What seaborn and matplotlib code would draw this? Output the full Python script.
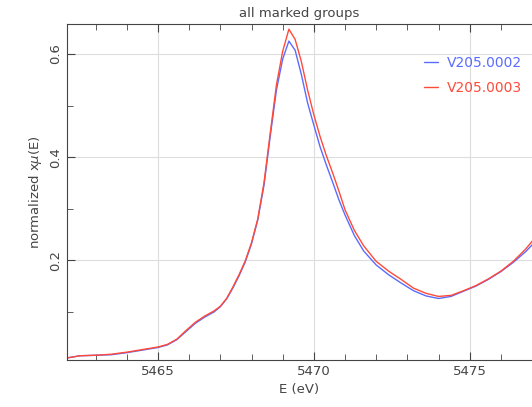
import matplotlib
matplotlib.use("Agg")
import matplotlib.pyplot as plt
import seaborn as sns
import pandas as pd
from matplotlib.ticker import MultipleLocator

energy = [5462.1, 5462.5, 5463.0, 5463.5, 5464.0, 5464.5, 5465.0, 5465.3, 5465.6, 5465.9,
          5466.2, 5466.5, 5466.8, 5467.0, 5467.2, 5467.4, 5467.6, 5467.8, 5468.0, 5468.2,
          5468.4, 5468.6, 5468.8, 5469.0, 5469.2, 5469.4, 5469.6, 5469.8, 5470.0, 5470.2,
          5470.4, 5470.6, 5470.8, 5471.0, 5471.3, 5471.6, 5472.0, 5472.4, 5472.8, 5473.2,
          5473.6, 5474.0, 5474.4, 5474.8, 5475.2, 5475.6, 5476.0, 5476.4, 5476.8, 5477.1]
v0002 = [0.011, 0.015, 0.016, 0.017, 0.021, 0.026, 0.031, 0.036, 0.046, 0.062,
         0.078, 0.090, 0.100, 0.110, 0.125, 0.146, 0.170, 0.197, 0.232, 0.278,
         0.345, 0.440, 0.530, 0.590, 0.625, 0.607, 0.560, 0.505, 0.462, 0.420,
         0.385, 0.352, 0.318, 0.288, 0.248, 0.218, 0.191, 0.172, 0.156, 0.141,
         0.131, 0.126, 0.130, 0.140, 0.150, 0.163, 0.178, 0.196, 0.217, 0.236]
v0003 = [0.011, 0.015, 0.016, 0.018, 0.022, 0.027, 0.032, 0.037, 0.047, 0.064,
         0.080, 0.092, 0.102, 0.111, 0.126, 0.148, 0.172, 0.199, 0.234, 0.280,
         0.350, 0.446, 0.540, 0.605, 0.648, 0.628, 0.585, 0.530, 0.482, 0.440,
         0.403, 0.370, 0.335, 0.298, 0.258, 0.228, 0.198, 0.179, 0.163, 0.146,
         0.136, 0.130, 0.132, 0.141, 0.151, 0.164, 0.179, 0.198, 0.222, 0.244]
labels = ["V205.0002", "V205.0003"]

df = pd.DataFrame({
    "E": energy * 2,
    "mu": v0002 + v0003,
    "group": [labels[0]] * len(energy) + [labels[1]] * len(energy),
})

sns.set_style("white")
plt.rcParams["font.family"] = ["DejaVu Sans"]
txt = "#444444"

fig = plt.figure(figsize=(5.32, 4.07), dpi=100)
ax = fig.add_axes([67 / 532, 47 / 407, 465 / 532, 336 / 407])
palette = {labels[0]: "#5a6cff", labels[1]: "#ff4a3a"}
sns.lineplot(data=df, x="E", y="mu", hue="group", palette=palette, linewidth=1.0, ax=ax)

ax.set_xlim(5462.08, 5477.0)
ax.set_ylim(0.0068, 0.658)
ax.xaxis.set_major_locator(MultipleLocator(5))
ax.xaxis.set_minor_locator(MultipleLocator(1))
ax.yaxis.set_major_locator(MultipleLocator(0.2))
ax.yaxis.set_minor_locator(MultipleLocator(0.1))
ax.grid(True, which="major", color="#dddddd", linewidth=0.8)
ax.set_axisbelow(True)

for s in ["left", "bottom", "top"]:
    ax.spines[s].set_visible(True)
    ax.spines[s].set_color("#444444")
    ax.spines[s].set_linewidth(0.8)
ax.spines["right"].set_visible(False)

ax.tick_params(which="both", direction="in", top=True, bottom=True, left=True, right=False,
               colors="#444444", labelcolor=txt, labelsize=9.5)
ax.tick_params(which="major", length=6)
ax.tick_params(which="minor", length=4)
for lab in ax.get_yticklabels():
    lab.set_rotation(90)
    lab.set_va("center")

ax.set_xlabel("E (eV)", color=txt, fontsize=9.5)
ax.set_ylabel("normalized x$\\mu$(E)", color=txt, fontsize=9.5)
ax.set_title("all marked groups", color=txt, fontsize=9.5, pad=5)

leg = ax.legend(loc="upper left", bbox_to_anchor=(0.753, 0.925), frameon=False,
                labelcolor="linecolor", fontsize=10, handlelength=1.0,
                handletextpad=0.65, labelspacing=0.75, borderpad=0)

fig.savefig("out.png", dpi=100)
